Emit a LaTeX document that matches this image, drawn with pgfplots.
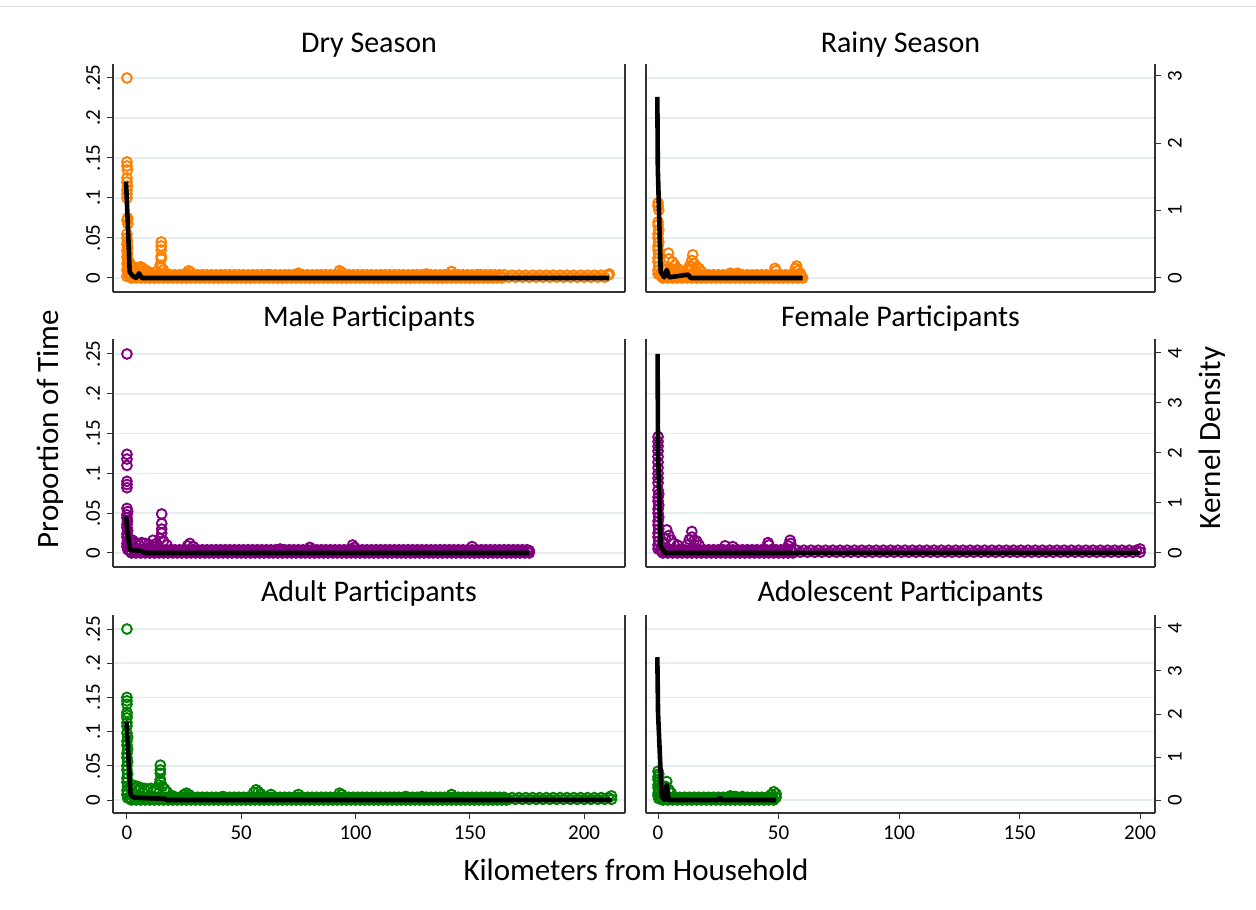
\documentclass[border=0pt]{standalone}
\usepackage{fontspec}
\setmainfont{Carlito}
\usepackage{pgfplots}
\usepackage{pgfplotstable}
\pgfplotsset{compat=1.18}
\definecolor{sorange}{RGB}{255,127,0}
\definecolor{spurple}{RGB}{128,0,128}
\definecolor{sgreen}{RGB}{0,128,0}
\definecolor{sgrid}{RGB}{230,238,241}

\pgfplotstableread[row sep=\\]{x y\\
1 .004\\2 0\\3 .004\\4 0\\5 .004\\6 0\\7 .004\\8 0\\9 .004\\10 0\\
11 .004\\12 0\\13 .004\\14 0\\15 .004\\16 0\\17 .004\\18 0\\19 .004\\20 0\\
21 .004\\22 0\\23 .004\\24 0\\25 .004\\26 0\\27 .004\\28 0\\29 .004\\30 0\\
31 .004\\32 0\\33 .004\\34 0\\35 .004\\36 0\\37 .004\\38 0\\39 .004\\40 0\\
41 .004\\42 0\\43 .004\\44 0\\45 .004\\46 0\\47 .004\\48 0\\49 .004\\50 0\\
51 .004\\52 0\\53 .004\\54 0\\55 .004\\56 0\\57 .004\\58 0\\59 .004\\60 0\\
61 .004\\62 0\\63 .004\\64 0\\65 .004\\66 0\\67 .004\\68 0\\69 .004\\70 0\\
71 .004\\72 0\\73 .004\\74 0\\75 .004\\76 0\\77 .004\\78 0\\79 .004\\80 0\\
81 .004\\82 0\\83 .004\\84 0\\85 .004\\86 0\\87 .004\\88 0\\89 .004\\90 0\\
91 .004\\92 0\\93 .004\\94 0\\95 .004\\96 0\\97 .004\\98 0\\99 .004\\100 0\\
101 .004\\102 0\\103 .004\\104 0\\105 .004\\106 0\\107 .004\\108 0\\109 .004\\110 0\\
111 .004\\112 0\\113 .004\\114 0\\115 .004\\116 0\\117 .004\\118 0\\119 .004\\120 0\\
121 .004\\122 0\\123 .004\\124 0\\125 .004\\126 0\\127 .004\\128 0\\129 .004\\130 0\\
131 .004\\132 0\\133 .004\\134 0\\135 .004\\136 0\\137 .004\\138 0\\139 .004\\140 0\\
141 .004\\142 0\\143 .004\\144 0\\145 .004\\146 0\\147 .004\\148 0\\149 .004\\150 0\\
151 .004\\152 0\\153 .004\\154 0\\155 .004\\156 0\\157 .004\\158 0\\159 .004\\160 0\\
161 .004\\162 0\\163 .004\\164 0\\165 .004\\166 0\\167 .004\\168 0\\169 .004\\170 0\\
171 .004\\172 0\\173 .004\\174 0\\175 .004\\176 0\\177 .004\\178 0\\179 .004\\180 0\\
181 .004\\182 0\\183 .004\\184 0\\185 .004\\186 0\\187 .004\\188 0\\189 .004\\190 0\\
191 .004\\192 0\\193 .004\\194 0\\195 .004\\196 0\\197 .004\\198 0\\199 .004\\200 0\\
201 .004\\202 0\\203 .004\\204 0\\205 .004\\206 0\\207 .004\\208 0\\209 .004\\210 0\\
211 .004\\212 0\\
1.5 .002\\3.5 .002\\5.5 .002\\7.5 .002\\9.5 .002\\11.5 .002\\13.5 .002\\15.5 .002\\17.5 .002\\19.5 .002\\
21.5 .002\\23.5 .002\\25.5 .002\\27.5 .002\\29.5 .002\\31.5 .002\\33.5 .002\\35.5 .002\\37.5 .002\\39.5 .002\\
41.5 .002\\43.5 .002\\45.5 .002\\47.5 .002\\49.5 .002\\51.5 .002\\53.5 .002\\55.5 .002\\57.5 .002\\59.5 .002\\
61.5 .002\\63.5 .002\\65.5 .002\\67.5 .002\\69.5 .002\\71.5 .002\\73.5 .002\\75.5 .002\\77.5 .002\\79.5 .002\\
81.5 .002\\83.5 .002\\85.5 .002\\87.5 .002\\89.5 .002\\91.5 .002\\93.5 .002\\95.5 .002\\97.5 .002\\99.5 .002\\
101.5 .002\\103.5 .002\\105.5 .002\\107.5 .002\\109.5 .002\\111.5 .002\\113.5 .002\\115.5 .002\\117.5 .002\\119.5 .002\\
121.5 .002\\123.5 .002\\125.5 .002\\127.5 .002\\129.5 .002\\131.5 .002\\133.5 .002\\135.5 .002\\137.5 .002\\139.5 .002\\
141.5 .002\\143.5 .002\\145.5 .002\\147.5 .002\\149.5 .002\\151.5 .002\\153.5 .002\\155.5 .002\\157.5 .002\\159.5 .002\\
161.5 .002\\163.5 .002\\165.5 .002\\167.5 .002\\169.5 .002\\171.5 .002\\173.5 .002\\175.5 .002\\177.5 .002\\179.5 .002\\
}\band

\pgfplotstableread[row sep=\\]{x y\\
56 .001\\59 .001\\62 .001\\65 .001\\68 .001\\71 .001\\74 .001\\77 .001\\80 .001\\83 .001\\
86 .001\\89 .001\\92 .001\\95 .001\\98 .001\\101 .001\\104 .001\\107 .001\\110 .001\\113 .001\\
116 .001\\119 .001\\122 .001\\125 .001\\128 .001\\131 .001\\134 .001\\137 .001\\140 .001\\143 .001\\
146 .001\\149 .001\\152 .001\\155 .001\\158 .001\\161 .001\\164 .001\\167 .001\\170 .001\\173 .001\\
176 .001\\179 .001\\182 .001\\185 .001\\188 .001\\191 .001\\194 .001\\197 .001\\200 .001\\203 .001\\
206 .001\\209 .001\\212 .001\\
57.5 .0035\\60.5 .0035\\63.5 .0035\\66.5 .0035\\69.5 .0035\\72.5 .0035\\75.5 .0035\\78.5 .0035\\
81.5 .0035\\84.5 .0035\\87.5 .0035\\90.5 .0035\\93.5 .0035\\96.5 .0035\\99.5 .0035\\102.5 .0035\\
105.5 .0035\\108.5 .0035\\111.5 .0035\\114.5 .0035\\117.5 .0035\\120.5 .0035\\123.5 .0035\\126.5 .0035\\
129.5 .0035\\132.5 .0035\\135.5 .0035\\138.5 .0035\\141.5 .0035\\144.5 .0035\\147.5 .0035\\150.5 .0035\\
153.5 .0035\\156.5 .0035\\159.5 .0035\\162.5 .0035\\165.5 .0035\\168.5 .0035\\171.5 .0035\\174.5 .0035\\
177.5 .0035\\180.5 .0035\\183.5 .0035\\186.5 .0035\\189.5 .0035\\192.5 .0035\\195.5 .0035\\198.5 .0035\\
201.5 .0035\\204.5 .0035\\207.5 .0035\\210.5 .0035\\
}\tail

\pgfplotsset{
  base/.style={scale only axis, anchor=south west,
    axis line style={-,draw=black!80,line width=0.6pt},
    tick align=outside, major tick length=3pt,
    tick style={draw=black!80,line width=0.5pt},
    ticklabel style={font=\fontsize{10.5}{12}\selectfont}},
  lcol/.style={at={(56.5pt,#1)}, width=256pt, xmin=-6.1, xmax=217.9},
  rcol/.style={at={(323pt,#1)}, width=254.5pt, xmin=-5, xmax=206.2},
  axA/.style={base, axis x line*=bottom, axis y line*=left,
    ytick={0,0.05,0.1,0.15,0.2,0.25}, ymajorgrids,
    grid style={draw=sgrid,line width=0.8pt}},
  lefty/.style={yticklabels={0,.05,.1,.15,.2,.25},
    yticklabel style={rotate=90,anchor=south}},
  noy/.style={yticklabels={}, ytick style={draw=none}},
  axB/.style={base, axis x line=none, axis y line*=right},
  righty/.style={yticklabel style={rotate=90,anchor=north}},
  botx/.style={xtick={0,50,100,150,200}, xticklabels={0,50,100,150,200}},
  topx/.style={xtick=\empty},
  sc/.style={only marks, mark=o, mark size=2.45pt, color=#1, mark options={line width=0.95pt}},
  dens/.style={draw=black, line width=2.3pt, no marks, line join=round},
}

\begin{document}
\begin{tikzpicture}
\fill[white] (0,0) rectangle (628pt,454.5pt);
\path[use as bounding box] (0,0) rectangle (628pt,454.5pt);
\draw[black!12, line width=0.5pt] (0,451pt) -- (628pt,451pt);

% ---------- Row 1 left: Dry Season
\begin{axis}[axA, lefty, topx, lcol=308.5pt, height=114pt, ymin=-0.0175, ymax=0.2675]
\addplot[sc=sorange, restrict x to domain=0:165] table {\band};
\addplot[sc=sorange, restrict x to domain=166:211.5] table {\tail};
\addplot[sc=sorange] coordinates {(0,0.25)(0,0.145)(0,0.14)(0.2,0.135)(0,0.125)(0,0.12)(0.2,0.115)(0,0.11)(0,0.105)(0,0.1)(0.3,0.075)(0,0.072)(0.4,0.068)(0,0.055)(0,0.05)(0.2,0.046)(0,0.042)(0.3,0.038)(0,0.034)(0.2,0.03)(0,0.026)(0.4,0.022)(0,0.018)(0.3,0.014)(0,0.01)(0.5,0.006)(0,0.002)(0.8,0.004)(1,0.02)(1.5,0.016)(2,0.012)(3,0.014)(4,0.01)(5,0.013)(6,0.014)(7,0.012)(8,0.01)(9,0.008)(10,0.007)(15,0.045)(15,0.04)(15,0.035)(15,0.027)(15,0.024)(15,0.013)(14.5,0.016)(16,0.01)(13,0.008)(27,0.009)(28,0.007)(26,0.006)(62,0.004)(75,0.006)(93,0.009)(94,0.007)(131,0.005)(142,0.008)(154,0.004)(211,0.005)};
\end{axis}
\begin{axis}[axB, ytick=\empty, lcol=308.5pt, height=114pt, ymin=-0.208, ymax=3.178]
\addplot[dens] coordinates {(-0.4,1.43)(0.4,0.79)(1.2,0.09)(2.5,0.03)(4,0)(5.3,0.07)(6.5,0)(211,0)};
\end{axis}

% ---------- Row 1 right: Rainy Season
\begin{axis}[axA, noy, topx, rcol=308.5pt, height=114pt, ymin=-0.0175, ymax=0.2675]
\addplot[sc=sorange, restrict x to domain=0:60] table {\band};
\addplot[sc=sorange] coordinates {(0,0.094)(0,0.09)(0.3,0.085)(0,0.07)(0,0.066)(0.3,0.06)(0,0.055)(0,0.05)(0.3,0.045)(0,0.04)(0,0.035)(0.3,0.03)(0,0.025)(0,0.02)(0.3,0.015)(0,0.01)(0,0.005)(4.3,0.031)(4.5,0.024)(6,0.02)(7,0.016)(8,0.012)(2,0.012)(3,0.01)(5,0.012)(7,0.01)(9,0.009)(10,0.008)(12,0.01)(13,0.015)(14,0.014)(15,0.018)(16,0.014)(17,0.012)(18,0.008)(14.4,0.029)(14,0.022)(30,0.006)(33,0.006)(48.5,0.012)(49,0.009)(57.5,0.015)(57,0.012)(58,0.009)(59,0.006)};
\end{axis}
\begin{axis}[axB, righty, ytick={0,1,2,3}, yticklabels={0,1,2,3}, rcol=308.5pt, height=114pt, ymin=-0.208, ymax=3.178]
\addplot[dens] coordinates {(-0.3,2.69)(-0.1,1.63)(1.1,0.09)(2.5,0.01)(3.6,0.12)(4.6,0.01)(12.5,0.05)(13.5,0)(60,0)};
\end{axis}

% ---------- Row 2 left: Male
\begin{axis}[axA, lefty, topx, lcol=171pt, height=114pt, ymin=-0.0176, ymax=0.2688]
\addplot[sc=spurple, restrict x to domain=0:176] table {\band};
\addplot[sc=spurple] coordinates {(0,0.25)(0,0.124)(0,0.118)(0,0.11)(0,0.09)(0,0.086)(0,0.082)(0,0.056)(0.3,0.052)(0,0.048)(0,0.044)(0.2,0.04)(0,0.036)(0,0.032)(0.3,0.028)(0,0.024)(0,0.02)(0.3,0.016)(0,0.012)(0,0.008)(0.4,0.004)(1.5,0.014)(2.5,0.016)(3.5,0.013)(5,0.012)(6.5,0.013)(8,0.012)(9.5,0.011)(11,0.009)(11.4,0.016)(15.2,0.049)(15.2,0.037)(15.2,0.03)(15.2,0.025)(14.5,0.018)(16,0.015)(13,0.012)(17.5,0.01)(12,0.008)(27.5,0.012)(26.5,0.009)(29,0.008)(67,0.005)(80,0.007)(98.7,0.01)(99.5,0.007)(151,0.008)(176,0.003)};
\end{axis}
\begin{axis}[axB, ytick=\empty, lcol=171pt, height=114pt, ymin=-0.28, ymax=4.28]
\addplot[dens] coordinates {(-0.4,0.73)(0.2,0.46)(1.3,0.06)(6.4,0.04)(8,0)(176,0)};
\end{axis}

% ---------- Row 2 right: Female
\begin{axis}[axA, noy, topx, rcol=171pt, height=114pt, ymin=-0.0176, ymax=0.2688]
\addplot[sc=spurple, restrict x to domain=0:56] table {\band};
\addplot[sc=spurple, restrict x to domain=57:200.5] table {\tail};
\addplot[sc=spurple] coordinates {(0,0.146)(0,0.14)(0,0.134)(0,0.128)(0,0.121)(0,0.114)(0,0.107)(0,0.1)(0,0.094)(0,0.088)(0,0.079)(0.3,0.074)(0,0.07)(0,0.065)(0.3,0.06)(0,0.055)(0,0.05)(0.3,0.045)(0,0.04)(0,0.035)(0.3,0.03)(0,0.025)(0,0.02)(0.3,0.015)(0,0.01)(0,0.005)(3.6,0.029)(4.5,0.022)(5.5,0.016)(3,0.018)(6.5,0.012)(8,0.01)(2,0.012)(14,0.027)(13,0.017)(14,0.02)(15,0.016)(16,0.015)(12,0.01)(17,0.01)(27.8,0.009)(31,0.008)(45.6,0.013)(46,0.01)(54.8,0.016)(55,0.012)(54,0.009)(200,0.005)};
\end{axis}
\begin{axis}[axB, righty, ytick={0,1,2,3,4}, yticklabels={0,1,2,3,4}, rcol=171pt, height=114pt, ymin=-0.28, ymax=4.28]
\addplot[dens] coordinates {(-0.2,3.98)(0,2.0)(1.1,0.13)(2.9,0)(200,0)};
\end{axis}

% ---------- Row 3 left: Adult
\begin{axis}[axA, lefty, botx, lcol=48pt, height=99pt, ymin=-0.019, ymax=0.2705]
\addplot[sc=sgreen, restrict x to domain=0:166] table {\band};
\addplot[sc=sgreen, restrict x to domain=167:212.5] table {\tail};
\addplot[sc=sgreen] coordinates {(0,0.25)(0,0.15)(0,0.145)(0,0.14)(0,0.128)(0,0.124)(0,0.12)(0,0.113)(0,0.108)(0,0.098)(0.3,0.092)(0,0.086)(0,0.08)(0.3,0.074)(0,0.068)(0,0.062)(0.3,0.056)(0,0.05)(0,0.044)(0.3,0.038)(0,0.032)(0,0.026)(0.3,0.02)(0,0.014)(0,0.008)(0.3,0.003)(1.5,0.02)(2.5,0.022)(3.5,0.018)(4.5,0.02)(6,0.018)(7.5,0.017)(9,0.016)(10.5,0.017)(12,0.015)(13,0.014)(14.6,0.051)(14.6,0.044)(14.6,0.039)(14.6,0.03)(14.6,0.027)(14,0.022)(15.5,0.02)(16.5,0.016)(17.5,0.012)(20,0.006)(26,0.01)(25,0.008)(27,0.008)(42,0.005)(56.5,0.015)(57.5,0.012)(55.5,0.011)(58.5,0.009)(63,0.008)(75,0.008)(93,0.01)(94,0.008)(122,0.005)(129,0.005)(142,0.008)(212,0.006)};
\end{axis}
\begin{axis}[axB, ytick=\empty, lcol=48pt, height=99pt, ymin=-0.302, ymax=4.302]
\addplot[dens] coordinates {(-0.2,1.82)(0.7,0.93)(1.6,0.12)(3,0.06)(10,0.04)(16.5,0.03)(17.5,0)(212,0)};
\end{axis}

% ---------- Row 3 right: Adolescent
\begin{axis}[axA, noy, botx, rcol=48pt, height=99pt, ymin=-0.019, ymax=0.2705]
\addplot[sc=sgreen, restrict x to domain=0:49] table {\band};
\addplot[sc=sgreen] coordinates {(0,0.042)(0.3,0.038)(0,0.034)(0,0.03)(0.3,0.026)(0,0.022)(0,0.018)(0.3,0.014)(0,0.01)(0,0.006)(0.3,0.002)(3.6,0.027)(3,0.02)(4.5,0.015)(5.5,0.01)(2,0.015)(1.5,0.02)(30,0.006)(32,0.005)(35,0.005)(47,0.008)(48,0.012)(49,0.009)};
\end{axis}
\begin{axis}[axB, righty, ytick={0,1,2,3,4}, yticklabels={0,1,2,3,4}, rcol=48pt, height=99pt, ymin=-0.302, ymax=4.302]
\addplot[dens] coordinates {(-0.3,3.32)(0,2.02)(1.5,0.08)(2.7,0)(3.6,0.35)(4.4,0)(25,0)(25.7,0.05)(26.5,0)(49,0)};
\end{axis}

% ---------- Titles
\begin{scope}[every node/.style={font=\fontsize{15}{18}\selectfont, anchor=base, inner sep=0pt}]
\node at (184.5pt,428pt) {Dry Season};
\node at (450.25pt,428pt) {Rainy Season};
\node at (184.5pt,291pt) {Male Participants};
\node at (450.25pt,291pt) {Female Participants};
\node at (184.5pt,153.5pt) {Adult Participants};
\node at (450.25pt,153.5pt) {Adolescent Participants};
\end{scope}
\begin{scope}[every node/.style={font=\fontsize{15.5}{18}\selectfont, anchor=base, inner sep=0pt}]
\node at (318pt,14.5pt) {Kilometers from Household};
\node[rotate=90] at (29pt,240pt) {Proportion of Time};
\node[rotate=90] at (610pt,235.5pt) {Kernel Density};
\end{scope}
\end{tikzpicture}
\end{document}
